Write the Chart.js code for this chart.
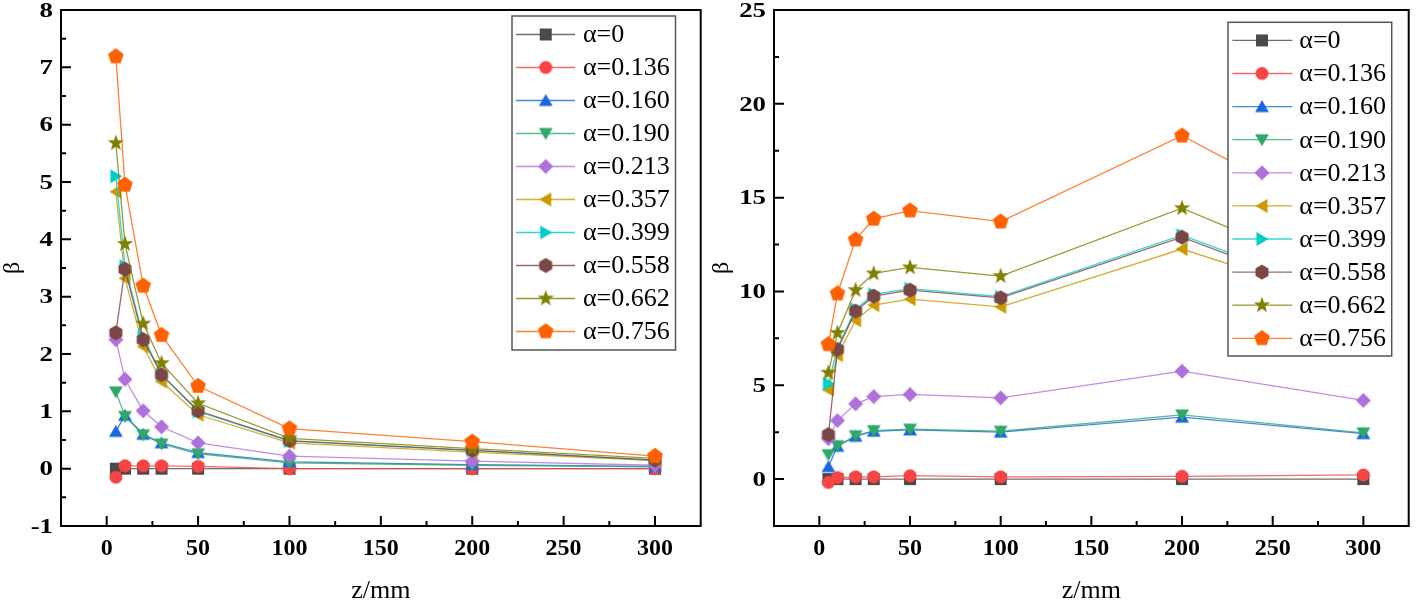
<!DOCTYPE html>
<html>
<head>
<meta charset="utf-8">
<script src="https://cdn.jsdelivr.net/npm/chart.js@4.4.1/dist/chart.umd.min.js"></script>
<style>
  body { margin: 0; background: #fff; width: 1416px; height: 601px; overflow: hidden; position: relative; }
  canvas { position: absolute; top: 0; }
  #leftChart { left: 0; }
  #rightChart { left: 708px; }
</style>
</head>
<body>
<canvas id="leftChart" width="708" height="601"></canvas>
<canvas id="rightChart" width="708" height="601"></canvas>
<script>
// z positions (mm) and series labels
const zValues = [5, 10, 20, 30, 50, 100, 200, 300];
const alphaLabels = ['α=0', 'α=0.136', 'α=0.160', 'α=0.190', 'α=0.213',
                     'α=0.357', 'α=0.399', 'α=0.558', 'α=0.662', 'α=0.756'];

// tick labels
const xTicks = [0, 50, 100, 150, 200, 250, 300];
const yTicksLeft = [-1, 0, 1, 2, 3, 4, 5, 6, 7, 8];
const yTicksRight = [0, 5, 10, 15, 20, 25];

// left panel, beta values
const leftA000 = [0, 0, 0, 0, 0, 0, 0, 0];
const leftA136 = [-0.15, 0.05, 0.05, 0.05, 0.04, 0.0, 0.0, 0.0];
const leftA160 = [0.65, 0.93, 0.60, 0.45, 0.28, 0.12, 0.07, 0.04];
const leftA190 = [1.34, 0.91, 0.59, 0.43, 0.26, 0.10, 0.06, 0.03];
const leftA213 = [2.25, 1.56, 1.01, 0.73, 0.45, 0.22, 0.13, 0.06];
const leftA357 = [4.83, 3.32, 2.13, 1.52, 0.94, 0.45, 0.29, 0.14];
const leftA399 = [5.10, 3.53, 2.30, 1.64, 1.00, 0.48, 0.32, 0.15];
const leftA558 = [2.37, 3.48, 2.25, 1.64, 1.01, 0.49, 0.32, 0.15];
const leftA662 = [5.68, 3.92, 2.53, 1.84, 1.14, 0.53, 0.35, 0.18];
const leftA756 = [7.19, 4.95, 3.19, 2.33, 1.44, 0.70, 0.47, 0.22];

// right panel, beta values
const rightA000 = [0, 0, 0, 0, 0, 0, 0, 0];
const rightA136 = [-0.18, 0.08, 0.12, 0.12, 0.18, 0.12, 0.15, 0.22];
const rightA160 = [0.66, 1.75, 2.28, 2.55, 2.62, 2.50, 3.30, 2.42];
const rightA190 = [1.30, 1.78, 2.31, 2.58, 2.66, 2.55, 3.42, 2.46];
const rightA213 = [2.15, 3.12, 4.01, 4.40, 4.51, 4.33, 5.75, 4.19];
const rightA357 = [4.76, 6.60, 8.46, 9.27, 9.59, 9.18, 12.26, 9.15];
const rightA399 = [5.08, 7.00, 9.05, 9.85, 10.15, 9.72, 13.00, 9.40];
const rightA558 = [2.37, 6.91, 8.95, 9.75, 10.07, 9.66, 12.89, 9.26];
const rightA662 = [5.67, 7.79, 10.07, 10.96, 11.28, 10.82, 14.44, 10.40];
const rightA756 = [7.18, 9.89, 12.76, 13.87, 14.31, 13.72, 18.30, 13.20];

const leftSeries = [leftA000, leftA136, leftA160, leftA190, leftA213, leftA357, leftA399, leftA558, leftA662, leftA756];
const rightSeries = [rightA000, rightA136, rightA160, rightA190, rightA213, rightA357, rightA399, rightA558, rightA662, rightA756];

// styles
const colors = ['#4a4a4a', '#f84444', '#1a66dd', '#2fa86a', '#b070dc',
                '#cc9900', '#00cccc', '#7a4646', '#808000', '#ff6000'];
const shapes = ['square', 'circle', 'up', 'down', 'diamond',
                'left', 'right', 'hexagon', 'star', 'pentagon'];

const SERIF = '"Liberation Serif", "Times New Roman", serif';

function makeMarker(shape, color) {
  const s = 20;
  const c = document.createElement('canvas');
  c.width = s; c.height = s;
  const g = c.getContext('2d');
  g.fillStyle = color;
  g.translate(s / 2, s / 2);
  g.beginPath();
  const poly = (n, r, start) => {
    for (let i = 0; i < n; i++) {
      const a = start + i * 2 * Math.PI / n;
      const px = r * Math.cos(a), py = r * Math.sin(a);
      i === 0 ? g.moveTo(px, py) : g.lineTo(px, py);
    }
    g.closePath();
  };
  const d = Math.PI / 180;
  if (shape === 'square') g.rect(-6, -6, 12, 12);
  else if (shape === 'circle') g.arc(0, 0, 6.5, 0, Math.PI * 2);
  else if (shape === 'up') { g.translate(0, 1.5); poly(3, 8, -90 * d); }
  else if (shape === 'down') { g.translate(0, -1.5); poly(3, 8, 90 * d); }
  else if (shape === 'left') { g.translate(1.5, 0); poly(3, 8, 180 * d); }
  else if (shape === 'right') { g.translate(-1.5, 0); poly(3, 8, 0); }
  else if (shape === 'diamond') poly(4, 7.5, -90 * d);
  else if (shape === 'hexagon') poly(6, 7.5, -90 * d);
  else if (shape === 'pentagon') poly(5, 8.2, -90 * d);
  else if (shape === 'star') {
    for (let i = 0; i < 10; i++) {
      const r = i % 2 === 0 ? 8.5 : 3.5;
      const a = -90 * d + i * Math.PI / 5;
      i === 0 ? g.moveTo(r * Math.cos(a), r * Math.sin(a)) : g.lineTo(r * Math.cos(a), r * Math.sin(a));
    }
    g.closePath();
  }
  g.fill();
  return c;
}

const markers = shapes.map((s, i) => makeMarker(s, colors[i]));

// frame, inward ticks, tick labels, axis titles and boxed legend
const framePlugin = {
  id: 'frame',
  afterDraw(chart, args, opts) {
    const ctx = chart.ctx, a = chart.chartArea;
    const xs = chart.scales.x, ys = chart.scales.y;
    ctx.save();
    ctx.strokeStyle = '#000';
    ctx.lineWidth = 2;
    ctx.strokeRect(a.left, a.top, a.right - a.left, a.bottom - a.top);

    const isMult = (v, m) => Math.abs(v / m - Math.round(v / m)) < 1e-6;
    ctx.beginPath();
    for (let v = Math.ceil(xs.min / opts.minorX) * opts.minorX; v < xs.max; v += opts.minorX) {
      if (v <= xs.min) continue;
      const px = xs.getPixelForValue(v);
      const len = isMult(v, opts.majorX) ? 10 : 5;
      ctx.moveTo(px, a.bottom); ctx.lineTo(px, a.bottom - len);
    }
    for (let v = Math.ceil(ys.min / opts.minorY) * opts.minorY; v < ys.max; v += opts.minorY) {
      if (v <= ys.min) continue;
      const py = ys.getPixelForValue(v);
      const len = isMult(v, opts.majorY) ? 10 : 5;
      ctx.moveTo(a.left, py); ctx.lineTo(a.left + len, py);
    }
    ctx.stroke();

    // tick labels (y labels are drawn a little wider, as in the source figure)
    ctx.fillStyle = '#000';
    ctx.font = 'bold 24px ' + SERIF;
    ctx.textAlign = 'center';
    ctx.textBaseline = 'middle';
    xs.ticks.forEach(t => ctx.fillText(String(t.value), xs.getPixelForValue(t.value), 549));
    ctx.textAlign = 'right';
    ctx.font = 'bold 22px ' + SERIF;
    ys.ticks.forEach(t => {
      ctx.save();
      ctx.translate(a.left - 8, ys.getPixelForValue(t.value) + 1);
      ctx.scale(1.22, 1);
      ctx.fillText(String(t.value), 0, 0);
      ctx.restore();
    });

    // axis titles
    ctx.textAlign = 'center';
    ctx.font = '26px ' + SERIF;
    ctx.fillText('z/mm', (a.left + a.right) / 2, 591);
    ctx.save();
    ctx.translate(opts.betaX, (a.top + a.bottom) / 2);
    ctx.rotate(-Math.PI / 2);
    ctx.font = '24px ' + SERIF;
    ctx.fillText('β', 0, 0);
    ctx.restore();

    // legend
    const L = opts.legend;
    ctx.fillStyle = '#fff';
    ctx.fillRect(L.left, L.top, L.width, L.height);
    ctx.strokeStyle = '#555';
    ctx.lineWidth = 1.5;
    ctx.strokeRect(L.left, L.top, L.width, L.height);
    ctx.font = '26px ' + SERIF;
    ctx.textAlign = 'left';
    chart.data.datasets.forEach((ds, i) => {
      const y = L.rowTop + i * L.rowGap;
      ctx.strokeStyle = ds.borderColor;
      ctx.lineWidth = 1.3;
      ctx.beginPath();
      ctx.moveTo(L.lineX0, y); ctx.lineTo(L.lineX1, y);
      ctx.stroke();
      const m = ds.pointStyle;
      ctx.drawImage(m, L.markX - m.width / 2, y - m.height / 2);
      ctx.fillStyle = '#000';
      ctx.fillText(ds.label, L.textX, y + 1);
    });
    ctx.restore();
  }
};

function buildChart(id, series, yMin, yMax, yTicks, yMinor, yMajor, plotLeft, padRight, betaX, legend) {
  const datasets = series.map((vals, i) => ({
    label: alphaLabels[i],
    data: zValues.map((z, k) => ({ x: z, y: vals[k] })),
    borderColor: colors[i] + 'cc',
    backgroundColor: colors[i],
    borderWidth: 1.3,
    pointStyle: markers[i],
    pointRadius: 6,
    pointHoverRadius: 6,
    order: series.length - i
  }));

  return new Chart(document.getElementById(id), {
    type: 'line',
    data: { datasets },
    options: {
      responsive: false,
      animation: false,
      events: [],
      layout: { padding: { top: 10, right: padRight, left: 0, bottom: 0 } },
      plugins: {
        legend: { display: false },
        tooltip: { enabled: false },
        frame: { minorX: 25, majorX: 50, minorY: yMinor, majorY: yMajor, betaX, legend }
      },
      scales: {
        x: {
          type: 'linear',
          min: -25,
          max: 325,
          afterBuildTicks: s => { s.ticks = xTicks.map(v => ({ value: v })); },
          afterFit: s => { s.height = 75; },
          grid: { display: false, drawTicks: false },
          border: { display: false },
          ticks: { display: false }
        },
        y: {
          type: 'linear',
          min: yMin,
          max: yMax,
          afterBuildTicks: s => { s.ticks = yTicks.map(v => ({ value: v })); },
          afterFit: s => { s.width = plotLeft; },
          grid: { display: false, drawTicks: false },
          border: { display: false },
          ticks: { display: false }
        }
      }
    },
    plugins: [framePlugin]
  });
}

buildChart('leftChart', leftSeries, -1, 8, yTicksLeft, 0.5, 1, 61, 7, 13, {
  left: 512, top: 16, width: 163.5, height: 334,
  rowTop: 34.5, rowGap: 33, lineX0: 516, lineX1: 575, markX: 545.7, textX: 583
});

buildChart('rightChart', rightSeries, -2.5, 25, yTicksRight, 2.5, 5, 66, 3, 14, {
  left: 520, top: 22.3, width: 163.7, height: 333.7,
  rowTop: 40.4, rowGap: 33.1, lineX0: 524.3, lineX1: 584.3, markX: 554, textX: 591.3
});
</script>
</body>
</html>
